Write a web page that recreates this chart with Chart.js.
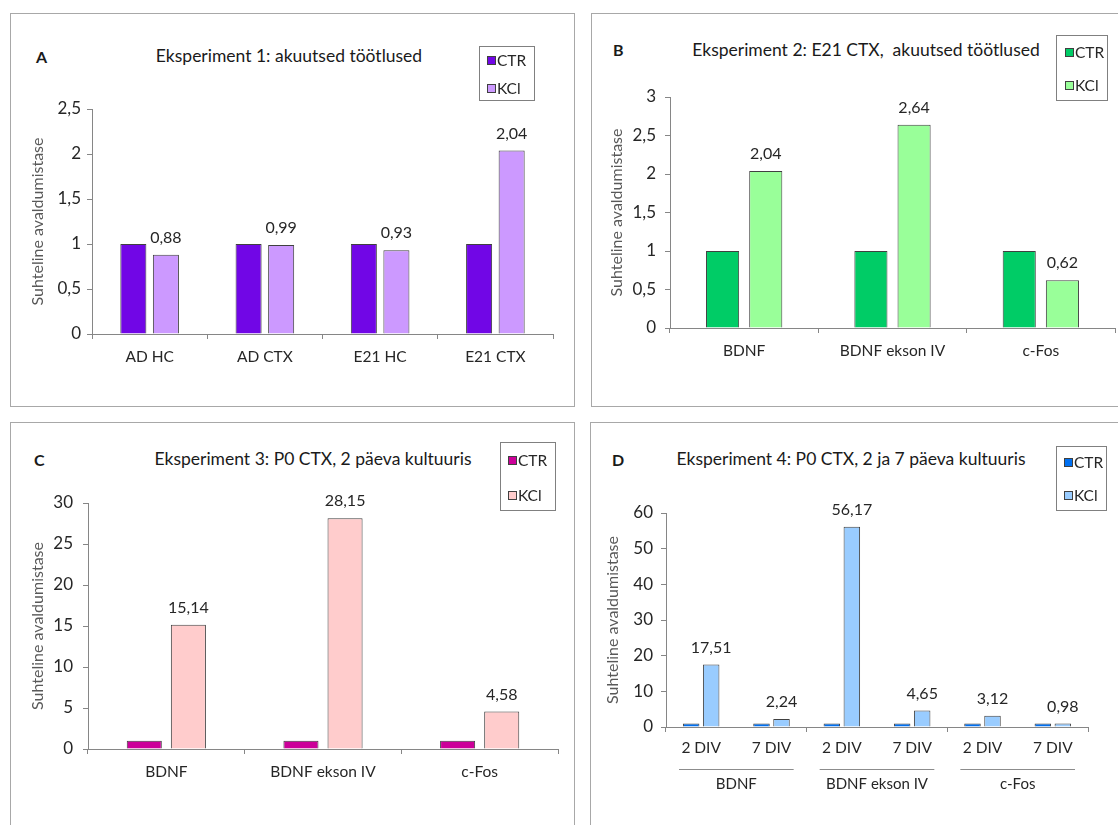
<!DOCTYPE html>
<html>
<head>
<meta charset="utf-8">
<script src="https://cdn.jsdelivr.net/npm/chart.js@4"></script>
<style>
  body { margin: 0; background: #fff; width: 1118px; height: 825px; overflow: hidden; position: relative; font-family: Lato, sans-serif; }
  .panel { position: absolute; border: 1.5px solid #a8a8a8; box-sizing: border-box; }
  canvas { position: absolute; }
  .title { position: absolute; width: 500px; text-align: center; font-size: 17.5px; line-height: 20px; color: #1a1a1a; white-space: pre; }
  .letter { position: absolute; font-weight: bold; font-size: 16px; line-height: 20px; color: #1a1a1a; }
  .legend { position: absolute; border: 1px solid #808080; box-sizing: border-box; }
  .sq { position: absolute; width: 9px; height: 9px; box-sizing: border-box; border: 1px solid #404040; }
  .lt { position: absolute; font-size: 15.5px; line-height: 18px; color: #262626; }
</style>
</head>
<body>
<div class="panel" style="left:10px;top:13px;width:565px;height:394px"></div>
<div class="panel" style="left:591px;top:13px;width:600px;height:394px"></div>
<div class="panel" style="left:10px;top:422px;width:565px;height:500px"></div>
<div class="panel" style="left:590px;top:422px;width:600px;height:500px"></div>

<div class="letter" style="left:36px;top:47px">A</div>
<div class="letter" style="left:613px;top:40px">B</div>
<div class="letter" style="left:34px;top:450px">C</div>
<div class="letter" style="left:612px;top:450px">D</div>

<div class="title" style="left:39px;top:46px">Eksperiment 1: akuutsed töötlused</div>
<div class="title" style="left:616px;top:40px">Eksperiment 2: E21 CTX,  akuutsed töötlused</div>
<div class="title" style="left:63px;top:449px">Eksperiment 3: P0 CTX, 2 päeva kultuuris</div>
<div class="title" style="left:601px;top:449px">Eksperiment 4: P0 CTX, 2 ja 7 päeva kultuuris</div>

<canvas id="chartA" width="580" height="410" style="left:0;top:0"></canvas>
<canvas id="chartB" width="538" height="410" style="left:580px;top:0"></canvas>
<canvas id="chartC" width="580" height="415" style="left:0;top:410px"></canvas>
<canvas id="chartD" width="538" height="415" style="left:580px;top:410px"></canvas>

<script>
const series = ['CTR', 'KCl'];
const yTitle = 'Suhteline avaldumistase';

const catsA = ['AD HC', 'AD CTX', 'E21 HC', 'E21 CTX'];
const ctrA = [1, 1, 1, 1];
const kclA = [0.88, 0.99, 0.93, 2.04];
const ticksA = [0, 0.5, 1, 1.5, 2, 2.5];

const catsB = ['BDNF', 'BDNF ekson IV', 'c-Fos'];
const ctrB = [1, 1, 1];
const kclB = [2.04, 2.64, 0.62];
const ticksB = [0, 0.5, 1, 1.5, 2, 2.5, 3];

const catsC = ['BDNF', 'BDNF ekson IV', 'c-Fos'];
const ctrC = [1, 1, 1];
const kclC = [15.14, 28.15, 4.58];
const ticksC = [0, 5, 10, 15, 20, 25, 30];

const groupsD = ['BDNF', 'BDNF ekson IV', 'c-Fos'];
const catsD = ['2 DIV', '7 DIV', '2 DIV', '7 DIV', '2 DIV', '7 DIV'];
const ctrD = [1, 1, 1, 1, 1, 1];
const kclD = [17.51, 2.24, 56.17, 4.65, 3.12, 0.98];
const ticksD = [0, 10, 20, 30, 40, 50, 60];

const AXIS = '#868686';
const FONT = 'Lato';

// numbers above the KCl bars, with a decimal comma
const valueLabels = {
    id: 'valueLabels',
    afterDatasetsDraw(chart) {
        const ctx = chart.ctx;
        const meta = chart.getDatasetMeta(1);
        ctx.save();
        ctx.font = '16px ' + FONT;
        ctx.fillStyle = '#262626';
        ctx.textAlign = 'center';
        ctx.textBaseline = 'middle';
        meta.data.forEach((bar, i) => {
            const v = chart.data.datasets[1].data[i];
            ctx.fillText(v.toFixed(2).replace('.', ','), bar.x, bar.y - 17);
        });
        ctx.restore();
    }
};

// second row of x labels for chart D
const groupLabels = {
    id: 'groupLabels',
    afterDraw(chart) {
        const ctx = chart.ctx;
        const x = chart.scales.x;
        const w = x.getPixelForValue(1) - x.getPixelForValue(0);
        ctx.save();
        ctx.strokeStyle = '#8c8c8c';
        ctx.lineWidth = 1;
        ctx.font = '15px ' + FONT;
        ctx.fillStyle = '#262626';
        ctx.textAlign = 'center';
        ctx.textBaseline = 'middle';
        groupsD.forEach((g, i) => {
            const l = x.getPixelForValue(2 * i) - w / 2 + 13;
            const r = x.getPixelForValue(2 * i + 1) + w / 2 - 13;
            ctx.beginPath();
            ctx.moveTo(l, x.bottom + 6.5);
            ctx.lineTo(r, x.bottom + 6.5);
            ctx.stroke();
            ctx.fillText(g, (l + r) / 2, x.bottom + 21);
        });
        ctx.restore();
    }
};

function barChart(id, o) {
    const ds = (label, data, color) => ({
        label: label,
        data: data,
        backgroundColor: color,
        borderColor: '#404040',
        borderWidth: 1,
        categoryPercentage: o.cp,
        barPercentage: o.bp
    });
    return new Chart(document.getElementById(id), {
        type: 'bar',
        data: {
            labels: o.labels,
            datasets: [ds(series[0], o.ctr, o.colors[0]), ds(series[1], o.kcl, o.colors[1])]
        },
        options: {
            responsive: false,
            animation: false,
            layout: { padding: o.pad },
            plugins: {
                legend: { display: false },
                tooltip: { enabled: false }
            },
            scales: {
                x: {
                    grid: { offset: true, drawOnChartArea: false, tickLength: 5, color: o.xGrid || AXIS },
                    border: { color: AXIS },
                    ticks: { font: { family: FONT, size: 15.5 }, color: '#262626', padding: o.xPad, maxRotation: 0, autoSkip: false },
                    afterFit: s => { s.height = o.xH; }
                },
                y: {
                    min: o.ticks[0],
                    max: o.ticks[o.ticks.length - 1],
                    grid: { drawOnChartArea: false, tickLength: 5, color: AXIS },
                    border: { color: AXIS },
                    ticks: {
                        stepSize: o.ticks[1] - o.ticks[0],
                        font: { family: FONT, size: 17 },
                        color: '#262626',
                        padding: o.yPad,
                        callback: v => String(v).replace('.', ',')
                    },
                    title: { display: true, text: yTitle, color: '#595959', font: { family: FONT, size: 16 }, padding: 0 },
                    afterFit: s => { s.width = o.yW; }
                }
            }
        },
        plugins: [valueLabels].concat(o.extra || [])
    });
}

barChart('chartA', {
    labels: catsA, ctr: ctrA, kcl: kclA, ticks: ticksA,
    colors: ['#7106E6', '#CC99FF'],
    cp: 0.565, bp: 0.8,
    pad: { left: 28, top: 109, right: 27, bottom: 40 }, yW: 64, xH: 36, yPad: 6, xPad: 9
});

barChart('chartB', {
    labels: catsB, ctr: ctrB, kcl: kclB, ticks: ticksB,
    colors: ['#00CC66', '#99FF99'],
    cp: 0.582, bp: 0.767,
    pad: { left: 27, top: 97, right: 3, bottom: 46 }, yW: 63, xH: 36, yPad: 9, xPad: 9
});

barChart('chartC', {
    labels: catsC, ctr: ctrC, kcl: kclC, ticks: ticksC,
    colors: ['#CC0099', '#FFCCCC'],
    cp: 0.563, bp: 0.795,
    pad: { left: 28, top: 93, right: 22, bottom: 40 }, yW: 60, xH: 36, yPad: 10, xPad: 9
});

barChart('chartD', {
    labels: catsD, ctr: ctrD, kcl: kclD, ticks: ticksD,
    colors: ['#0070F2', '#99CCFF'],
    cp: 0.569, bp: 0.825,
    xGrid: c => (c.index === undefined || c.index % 2 === 0) ? AXIS : 'rgba(0,0,0,0)',
    pad: { left: 23, top: 103, right: 30, bottom: 62 }, yW: 63, xH: 36, yPad: 8, xPad: 7,
    extra: [groupLabels]
});

// legends: framed boxes at the top right of each panel
const legendBoxes = [
    { x: 479, y: 46, w: 56, h: 55, sx: 487, rows: [60, 88], colors: ['#7106E6', '#CC99FF'] },
    { x: 1056, y: 35, w: 52, h: 66, sx: 1065, rows: [52, 85], colors: ['#00CC66', '#99FF99'] },
    { x: 500, y: 442, w: 56, h: 69, sx: 508, rows: [460, 495], colors: ['#CC0099', '#FFCCCC'] },
    { x: 1056, y: 446, w: 51, h: 65, sx: 1064, rows: [462, 495], colors: ['#0070F2', '#99CCFF'] }
];
legendBoxes.forEach(b => {
    const box = document.createElement('div');
    box.className = 'legend';
    box.style.cssText = `left:${b.x}px;top:${b.y}px;width:${b.w}px;height:${b.h}px`;
    document.body.appendChild(box);
    b.rows.forEach((cy, i) => {
        const sq = document.createElement('div');
        sq.className = 'sq';
        sq.style.cssText = `left:${b.sx}px;top:${cy - 4.5}px;background:${b.colors[i]}`;
        document.body.appendChild(sq);
        const t = document.createElement('div');
        t.className = 'lt';
        t.style.cssText = `left:${b.sx + 10}px;top:${cy - 9}px`;
        t.textContent = series[i];
        document.body.appendChild(t);
    });
});
</script>
</body>
</html>
